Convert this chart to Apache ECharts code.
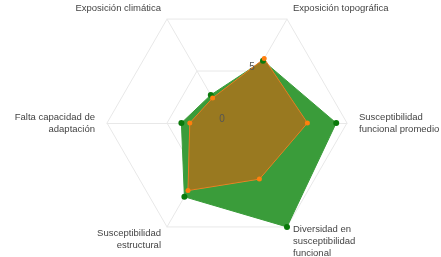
<!DOCTYPE html>
<html>
<head>
<meta charset="utf-8">
<script src="https://cdn.jsdelivr.net/npm/echarts@6/dist/echarts.min.js"></script>
<style>
  html, body { margin: 0; padding: 0; background: #fff; }
  #main { width: 441px; height: 257px; }
</style>
</head>
<body>
<div id="main"></div>
<script>
// indicators, counterclockwise starting at the top-left vertex (120 deg)
const indicators = [
  'Exposición climática',
  'Falta capacidad de\nadaptación',
  'Susceptibilidad\nestructural',
  'Diversidad en\nsusceptibilidad\nfuncional',
  'Susceptibilidad\nfuncional promedio',
  'Exposición topográfica'
]
const maxValue = 10
const radialTicks = [0, 5]
const greenValues = [2.7, 3.8, 7.1, 10, 9.1, 6.0]
const orangeValues = [2.4, 3.1, 6.5, 5.4, 6.7, 6.2]

const center = [227, 123]
const radius = 120

const chart = echarts.init(document.getElementById('main'), null, { renderer: 'canvas' })

// radial tick labels drawn once, along the "Exposición topográfica" spoke
const tickAngle = 60 * Math.PI / 180
const tickLabels = radialTicks.map(v => {
  const r = radius * v / maxValue
  return {
    type: 'text',
    x: center[0] + r * Math.cos(tickAngle) - 5,
    y: center[1] - r * Math.sin(tickAngle) - 4,
    z: 100,
    style: {
      text: String(v),
      fill: '#555',
      font: '10px "Liberation Sans", Arial, sans-serif',
      align: 'center',
      verticalAlign: 'middle'
    }
  }
})

const nameStyle = {
  color: '#444',
  fontSize: 9.5,
  lineHeight: 12,
  fontFamily: '"Liberation Sans", Arial, sans-serif'
}

const option = {
  animation: false,
  radar: {
    center: center,
    radius: radius,
    startAngle: 120,
    splitNumber: 2,
    shape: 'polygon',
    indicator: indicators.map(name => ({ name: name, min: 0, max: maxValue })),
    axisName: Object.assign({}, nameStyle, {
      // the lower labels sit a little lower than the default layout
      formatter: (name) => {
        if (name.indexOf('Diversidad') === 0) return '{low|' + name + '}'
        if (name.indexOf('estructural') > 0) return '{lowS|' + name + '}'
        return name
      },
      rich: {
        low: Object.assign({}, nameStyle, { padding: [8, 0, 0, 0] }),
        lowS: Object.assign({}, nameStyle, { padding: [4, 0, 0, 0] })
      }
    }),
    nameGap: 12,
    axisLine: { lineStyle: { color: '#e8e8e8', width: 1 } },
    splitLine: { lineStyle: { color: '#e8e8e8', width: 1 } },
    splitArea: { show: false },
    axisLabel: { show: false }
  },
  graphic: tickLabels,
  series: [{
    type: 'radar',
    data: [
      {
        name: 'Serie verde',
        value: greenValues,
        symbol: 'circle',
        symbolSize: 6,
        itemStyle: { color: '#0b7a0b' },
        lineStyle: { color: '#3a9c3a', width: 1 },
        areaStyle: { color: '#3a9c3a', opacity: 1 }
      },
      {
        name: 'Serie naranja',
        value: orangeValues,
        symbol: 'circle',
        symbolSize: 5,
        itemStyle: { color: '#ff7f0e' },
        lineStyle: { color: '#f08a2a', width: 1 },
        areaStyle: { color: '#d8620f', opacity: 0.6 }
      }
    ]
  }]
}

chart.setOption(option)
</script>
</body>
</html>
